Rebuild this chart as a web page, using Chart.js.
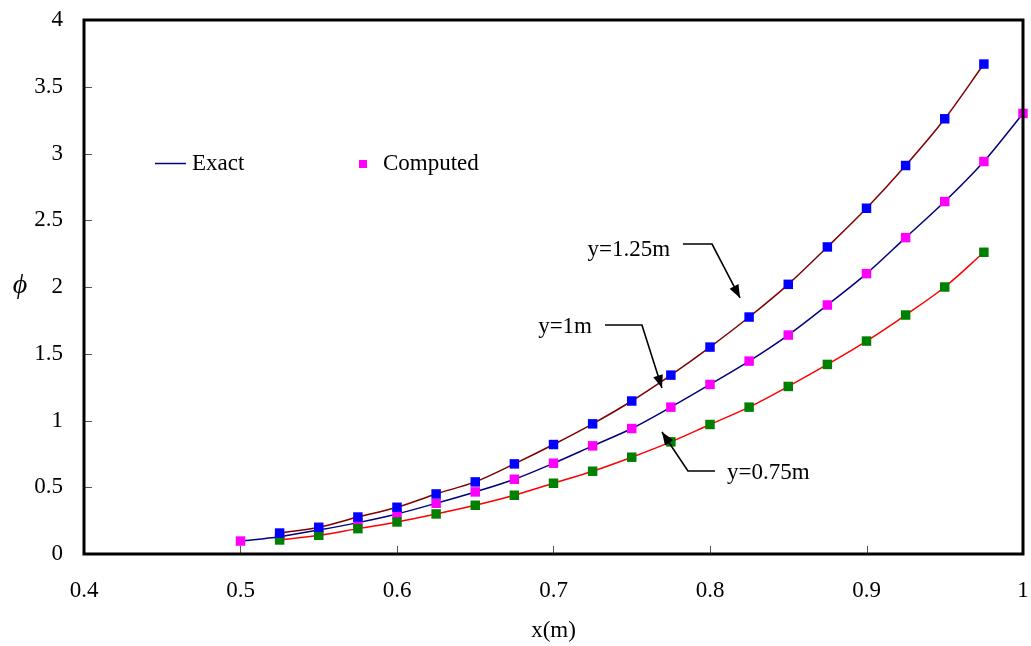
<!DOCTYPE html>
<html>
<head>
<meta charset="utf-8">
<script src="https://cdn.jsdelivr.net/npm/chart.js@4/dist/chart.umd.min.js"></script>
<style>
  html, body { margin:0; padding:0; background:#fff; }
  #wrap { width:1031px; height:646px; }
</style>
</head>
<body>
<div id="wrap"><canvas id="chart"></canvas></div>
<script>
// x positions (m)
var xFull  = [0.5,0.525,0.55,0.575,0.6,0.625,0.65,0.675,0.7,0.725,0.75,0.775,0.8,0.825,0.85,0.875,0.9,0.925,0.95,0.975,1.0];
var xInner = [0.525,0.55,0.575,0.6,0.625,0.65,0.675,0.7,0.725,0.75,0.775,0.8,0.825,0.85,0.875,0.9,0.925,0.95,0.975];

// phi
var phiY125 = [0.157,0.20,0.277,0.35,0.45,0.54,0.675,0.82,0.975,1.146,1.34,1.55,1.775,2.02,2.30,2.59,2.91,3.26,3.67];
var phiY100 = [0.097,0.13,0.18,0.235,0.30,0.38,0.465,0.56,0.68,0.81,0.94,1.10,1.27,1.445,1.64,1.865,2.10,2.37,2.64,2.94,3.30];
var phiY075 = [0.105,0.14,0.19,0.24,0.30,0.365,0.44,0.53,0.62,0.725,0.84,0.97,1.10,1.255,1.42,1.595,1.79,2.00,2.26];

var xTicks = [0.4,0.5,0.6,0.7,0.8,0.9,1];
var yTicks = [0,0.5,1,1.5,2,2.5,3,3.5,4];

// labels with arrows, in data units: text anchor, elbow start, elbow end, arrow tip
var notes = [
  {text:'y=1.25m', align:'right', tx:0.7745, ty:2.277, p1:[0.7827,2.322], p2:[0.8013,2.322], tip:[0.8192,1.918]},
  {text:'y=1m',    align:'right', tx:0.7246, ty:1.700, p1:[0.7329,1.715], p2:[0.7565,1.715], tip:[0.7693,1.243]},
  {text:'y=0.75m', align:'left',  tx:0.8109, ty:0.607, p1:[0.8032,0.622], p2:[0.7859,0.622], tip:[0.7693,0.914]}
];

function pts(xs, ys){
  var out = [];
  for (var i = 0; i < ys.length; i++) out.push({x:xs[i], y:ys[i]});
  return out;
}

var FONT = '"Liberation Serif", "Times New Roman", serif';

function fmt(v){ return Number(v.toFixed(2)).toString(); }

var decor = {
  id:'decor',
  afterDraw:function(chart){
    var ctx = chart.ctx;
    var a = chart.chartArea;
    var xs = chart.scales.x, ys = chart.scales.y;
    ctx.save();

    // inward ticks
    ctx.strokeStyle = '#555';
    ctx.lineWidth = 1;
    ctx.beginPath();
    for (var i = 1; i < xTicks.length-1; i++) {
      var px = Math.round(xs.getPixelForValue(xTicks[i])) + 0.5;
      ctx.moveTo(px, a.bottom); ctx.lineTo(px, a.bottom - 8);
    }
    for (var j = 1; j < yTicks.length-1; j++) {
      var py = Math.round(ys.getPixelForValue(yTicks[j])) + 0.5;
      ctx.moveTo(a.left, py); ctx.lineTo(a.left + 8, py);
    }
    ctx.stroke();

    // frame
    ctx.strokeStyle = '#000';
    ctx.lineWidth = 3;
    ctx.strokeRect(a.left, a.top, a.right - a.left, a.bottom - a.top);

    // axis titles
    ctx.fillStyle = '#000';
    ctx.textAlign = 'center';
    ctx.textBaseline = 'middle';
    ctx.font = '23px ' + FONT;
    ctx.fillText('x(m)', (a.left + a.right)/2, 631);
    ctx.font = 'italic 28px ' + FONT;
    ctx.fillText('\u03d5', 20, ys.getPixelForValue(2) - 1);

    // legend
    ctx.font = '23px ' + FONT;
    ctx.textAlign = 'left';
    ctx.strokeStyle = '#000080';
    ctx.lineWidth = 1.5;
    ctx.beginPath(); ctx.moveTo(155, 163.5); ctx.lineTo(186, 163.5); ctx.stroke();
    ctx.fillText('Exact', 192, 164);
    ctx.fillStyle = '#ff00ff';
    ctx.fillRect(359, 160, 8, 8);
    ctx.fillStyle = '#000';
    ctx.fillText('Computed', 383, 164);

    // annotations
    notes.forEach(function(n){
      ctx.textAlign = n.align;
      ctx.fillText(n.text, xs.getPixelForValue(n.tx), ys.getPixelForValue(n.ty));
      var x1 = xs.getPixelForValue(n.p1[0]), y1 = ys.getPixelForValue(n.p1[1]);
      var x2 = xs.getPixelForValue(n.p2[0]), y2 = ys.getPixelForValue(n.p2[1]);
      var x3 = xs.getPixelForValue(n.tip[0]), y3 = ys.getPixelForValue(n.tip[1]);
      ctx.strokeStyle = '#000';
      ctx.lineWidth = 1.6;
      ctx.beginPath(); ctx.moveTo(x1, y1); ctx.lineTo(x2, y2); ctx.lineTo(x3, y3); ctx.stroke();
      var ang = Math.atan2(y3 - y2, x3 - x2);
      var L = 13, W = 5;
      ctx.beginPath();
      ctx.moveTo(x3, y3);
      ctx.lineTo(x3 - L*Math.cos(ang) + W*Math.sin(ang), y3 - L*Math.sin(ang) - W*Math.cos(ang));
      ctx.lineTo(x3 - L*Math.cos(ang) - W*Math.sin(ang), y3 - L*Math.sin(ang) + W*Math.cos(ang));
      ctx.closePath();
      ctx.fillStyle = '#000';
      ctx.fill();
    });
    ctx.restore();
  }
};

function pointSet(label, data, color, order){
  return {label:label, data:data, showLine:false, order:order,
    pointStyle:'rect', pointRadius:6.7, pointHoverRadius:6.7,
    pointBackgroundColor:color, pointBorderColor:color, pointBorderWidth:0,
    backgroundColor:color, borderColor:color, clip:false};
}
function lineSet(label, data, color, order){
  return {label:label, data:data, order:order, borderColor:color, borderWidth:1.5,
    pointRadius:0, fill:false, cubicInterpolationMode:'monotone'};
}

new Chart(document.getElementById('chart'), {
  type:'line',
  data:{
    datasets:[
      pointSet('Computed y=1.25m', pts(xInner, phiY125), '#0000ff', 0),
      pointSet('Computed y=0.75m', pts(xInner, phiY075), '#008000', 1),
      pointSet('Computed y=1m',    pts(xFull,  phiY100), '#ff00ff', 2),
      lineSet('Exact y=1.25m', pts(xInner, phiY125), '#800000', 3),
      lineSet('Exact y=1m',    pts(xFull,  phiY100), '#000080', 4),
      lineSet('Exact y=0.75m', pts(xInner, phiY075), '#ff0000', 5)
    ]
  },
  options:{
    responsive:true,
    maintainAspectRatio:false,
    animation:false,
    layout:{padding:{top:20, right:8, left:0, bottom:0}},
    plugins:{legend:{display:false}, tooltip:{enabled:false}},
    scales:{
      x:{
        type:'linear', min:0.4, max:1,
        grid:{display:false}, border:{display:false},
        ticks:{stepSize:0.1, color:'#000', font:{family:FONT, size:23}, padding:15, maxRotation:0, callback:fmt},
        afterFit:function(s){ s.height = 92; s.paddingLeft = 0; s.paddingRight = 0; }
      },
      y:{
        min:0, max:4,
        grid:{display:false}, border:{display:false},
        ticks:{stepSize:0.5, color:'#000', font:{family:FONT, size:23}, padding:13, callback:fmt},
        afterFit:function(s){ s.width = 84; s.paddingTop = 0; s.paddingBottom = 0; }
      }
    }
  },
  plugins:[decor]
});
</script>
</body>
</html>
